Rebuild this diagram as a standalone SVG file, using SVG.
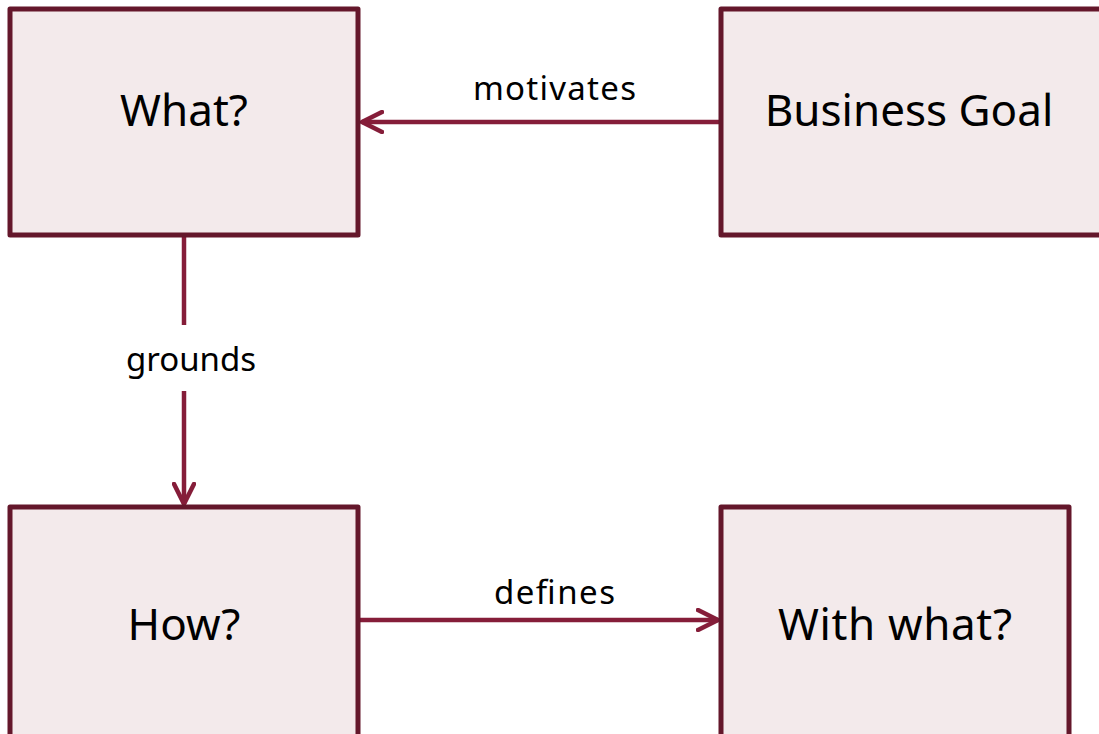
<svg xmlns="http://www.w3.org/2000/svg" width="1099" height="734" viewBox="0 0 1099 734">
  <style>
    .box { fill: #f3eaeb; stroke: #64172b; stroke-width: 5; stroke-linejoin: round; }
    .node-label { font-family: "Noto Sans", "DejaVu Sans", sans-serif; font-size: 44px; fill: #000; text-anchor: middle; }
    .edge-label { font-family: "Noto Sans", "DejaVu Sans", sans-serif; font-size: 33px; fill: #000; text-anchor: middle; }
    .edge { fill: none; stroke: #851d39; stroke-width: 4.5; }
  </style>
  <defs>
    <marker id="head" viewBox="0 0 24 24" refX="22" refY="12" markerWidth="24" markerHeight="24" markerUnits="userSpaceOnUse" orient="auto">
      <path d="M2,2 L22,12 L2,22" fill="none" stroke="#851d39" stroke-width="4.5" stroke-linecap="round" stroke-linejoin="round"/>
    </marker>
  </defs>

  <g id="connectors">
    <line class="edge" x1="720" y1="122" x2="362" y2="122" marker-end="url(#head)"/>
    <line class="edge" x1="184" y1="236" x2="184" y2="325"/>
    <line class="edge" x1="184" y1="391" x2="184" y2="504" marker-end="url(#head)"/>
    <line class="edge" x1="358" y1="620" x2="718" y2="620" marker-end="url(#head)"/>
    <text class="edge-label" x="554.5" y="100" textLength="163" lengthAdjust="spacing">motivates</text>
    <text class="edge-label" x="191" y="371">grounds</text>
    <text class="edge-label" x="554.5" y="604" textLength="121" lengthAdjust="spacing">defines</text>
  </g>

  <g id="node-what">
    <rect class="box" x="10" y="9" width="348" height="226"/>
    <text class="node-label" x="184" y="126">What?</text>
  </g>
  <g id="node-business-goal">
    <rect class="box" x="721" y="9" width="400" height="226"/>
    <text class="node-label" x="909" y="126">Business Goal</text>
  </g>
  <g id="node-how">
    <rect class="box" x="10" y="507" width="348" height="240"/>
    <text class="node-label" x="184" y="640">How?</text>
  </g>
  <g id="node-with-what">
    <rect class="box" x="721" y="507" width="348" height="240"/>
    <text class="node-label" x="895" y="640" textLength="234" lengthAdjust="spacing">With what?</text>
  </g>
</svg>
